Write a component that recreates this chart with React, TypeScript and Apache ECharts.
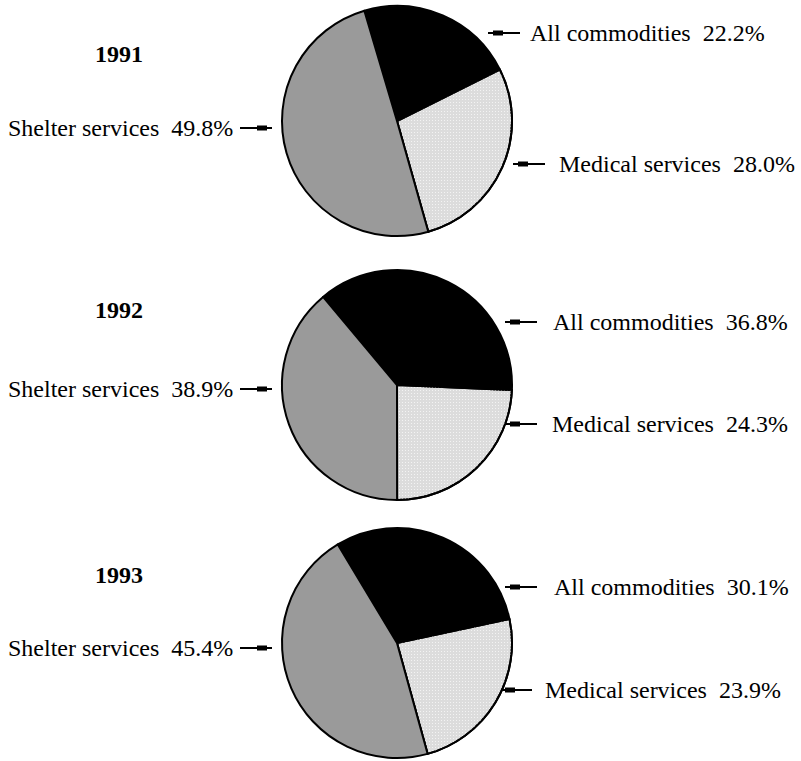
import React, { useEffect, useRef } from "react";
import * as echarts from "echarts";

const years = ["1991", "1992", "1993"];
const categories = ["All commodities", "Medical services", "Shelter services"];
const values1991 = [22.2, 28.0, 49.8];
const values1992 = [36.8, 24.3, 38.9];
const values1993 = [30.1, 23.9, 45.4];
const valuesByYear = [values1991, values1992, values1993];

// layout (pixels)
const pieCx = 397;
const pieCy = [121, 385, 643];
const pieR = 115;
const startAngles = [106.5, 130, 121];
const yearLabelPos = [[95, 54], [95, 310], [95, 575]];
// [lineStartX (pie side), lineY, textX] for each category per year
const labelPos = [
  [[488, 33, 530], [513, 164, 559], [272, 128, 8]],
  [[505, 322, 553], [505, 424, 552], [272, 389, 8]],
  [[505, 587, 554], [500, 690, 545], [272, 648, 8]],
];
const sliceColors = ["#000000", "#dcdcdc", "#9a9a9a"];
const FONT = '"Liberation Serif", "Times New Roman", serif';

export default function App() {
  const ref = useRef<HTMLDivElement>(null);
  useEffect(() => {
    if (!ref.current) return;
    const chart = echarts.init(ref.current, null, { renderer: "svg" });
    const decal = {
      symbol: "rect",
      symbolSize: 1,
      color: "#f3f3f3",
      dashArrayX: [1, 2],
      dashArrayY: [1, 2],
    };
    const series = years.map((y, i) => ({
      type: "pie",
      name: y,
      center: [pieCx, pieCy[i]],
      radius: pieR,
      startAngle: startAngles[i],
      clockwise: true,
      silent: true,
      label: { show: false },
      labelLine: { show: false },
      emphasis: { disabled: true },
      itemStyle: { borderColor: "#000", borderWidth: 2 },
      data: categories.map((c, j) => ({
        name: c,
        value: valuesByYear[i][j],
        itemStyle: j === 1 ? { color: sliceColors[j], decal } : { color: sliceColors[j] },
      })),
    }));

    const graphics: any[] = [];
    years.forEach((y, i) => {
      graphics.push({
        type: "text",
        x: yearLabelPos[i][0],
        y: yearLabelPos[i][1],
        style: {
          text: y,
          font: `bold 24px ${FONT}`,
          fill: "#000",
          align: "left",
          verticalAlign: "middle",
        },
      });
      categories.forEach((c, j) => {
        const [lx, ly, tx] = labelPos[i][j];
        const isLeft = tx < lx;
        const x1 = isLeft ? lx - 32 : lx;
        const x2 = isLeft ? lx : lx + 32;
        const rx = isLeft ? lx - 15 : lx + 5;
        graphics.push({
          type: "line",
          shape: { x1, y1: ly, x2, y2: ly },
          style: { stroke: "#000", lineWidth: 2 },
        });
        graphics.push({
          type: "rect",
          shape: { x: rx, y: ly - 2.5, width: 10, height: 5 },
          style: { fill: "#000" },
        });
        graphics.push({
          type: "text",
          x: tx,
          y: ly,
          style: {
            text: `${c}  ${valuesByYear[i][j].toFixed(1)}%`,
            font: `24px ${FONT}`,
            fill: "#000",
            align: "left",
            verticalAlign: "middle",
          },
        });
      });
    });

    chart.setOption({
      animation: false,
      backgroundColor: "#ffffff",
      series,
      graphic: { elements: graphics },
    });
    return () => chart.dispose();
  }, []);
  return (
    <div
      ref={ref}
      style={{ position: "fixed", left: 0, top: 0, width: 801, height: 761 }}
    />
  );
}
